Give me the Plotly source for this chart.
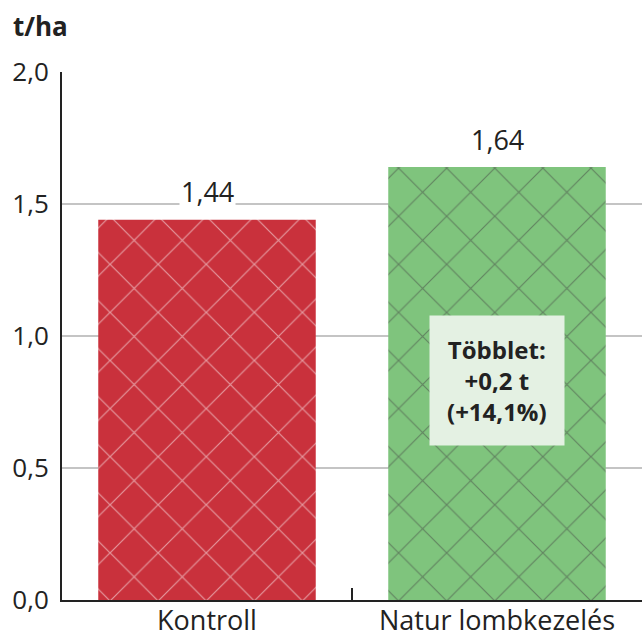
import plotly.graph_objects as go

categories = ["Kontroll", "Natur lombkezelés"]
values = [1.44, 1.64]
value_labels = ["1,44", "1,64"]
bar_colors = ["#c9313c", "#7fc47d"]
pattern_colors = ["#d9555d", "#6bb26a"]
tick_vals = [0, 0.5, 1.0, 1.5, 2.0]
tick_text = ["0,0", "0,5", "1,0", "1,5", "2,0"]
unit_label = "t/ha"
note_text = "Többlet:<br>+0,2 t<br>(+14,1%)"
note_y = 0.83

FONT = "Open Sans"

fig = go.Figure()
fig.add_trace(go.Bar(
    x=categories, y=values,
    width=0.75,
    marker=dict(
        color=bar_colors,
        line=dict(width=0),
        pattern=dict(shape="x", fgcolor=pattern_colors, size=34, solidity=0.07, fillmode="overlay"),
    ),
    hoverinfo="skip",
))

for c, v, t in zip(categories, values, value_labels):
    fig.add_annotation(x=c, y=v, text=t, showarrow=False, yanchor="middle", yshift=28,
                       font=dict(family=FONT, size=27, color="#222"), bgcolor="white",
                       borderpad=1)

fig.add_annotation(x=categories[1], y=note_y, text="<b>" + note_text + "</b>", showarrow=False,
                   font=dict(family=FONT, size=24, color="#222"), bgcolor="#e4f1e3",
                   borderpad=17, align="center")

fig.add_annotation(xref="paper", yref="paper", x=-0.088, y=1.087, text="<b>" + unit_label + "</b>",
                   showarrow=False, xanchor="left", yanchor="middle",
                   font=dict(family=FONT, size=26, color="#222"))

fig.update_layout(
    width=642, height=642,
    margin=dict(l=62, r=0, t=72, b=42),
    paper_bgcolor="white", plot_bgcolor="white",
    showlegend=False,
    bargap=0.25,
)
fig.update_xaxes(
    showline=True, linecolor="#222", linewidth=2,
    ticks="inside", tickson="boundaries", ticklen=12, tickwidth=2, tickcolor="#222",
    tickfont=dict(family=FONT, size=27, color="#222"), ticklabelstandoff=-4,
    showgrid=False, automargin=False,
)
fig.update_yaxes(
    range=[0, 2.0], tickvals=tick_vals, ticktext=tick_text,
    showline=True, linecolor="#222", linewidth=2,
    showgrid=True, gridcolor="#c4c4c4", gridwidth=2,
    zeroline=False, ticks="", ticklabelstandoff=6,
    tickfont=dict(family=FONT, size=26, color="#222"),
    automargin=False,
)

fig.write_html("out.html", config={"displayModeBar": False},
               post_script="document.body.style.margin='0px';")
